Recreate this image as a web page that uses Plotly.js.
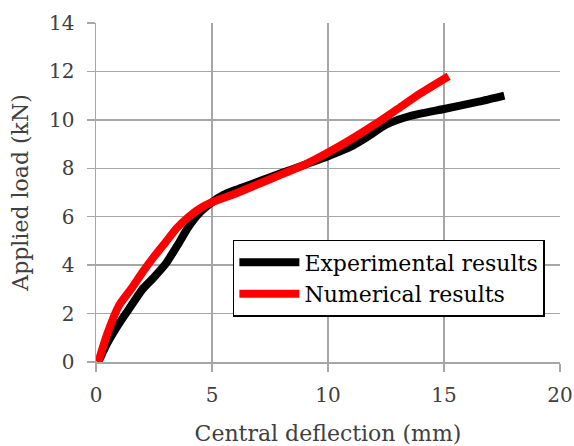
<!DOCTYPE html>
<html><head><meta charset="utf-8">
<script src="https://cdn.plot.ly/plotly-3.0.1.min.js"></script>
<style>html,body{margin:0;padding:0;background:#fff;}#chart{width:574px;height:446px;}</style>
</head><body><div id="chart"></div>
<script>
const expX = [0.1, 0.5, 1.0, 1.5, 2.0, 2.5, 3.0, 3.5, 4.0, 4.5, 5.0, 5.5, 6.0, 7.0, 8.0, 9.0, 10.0, 11.0, 11.7, 12.5, 13.5, 15.0, 16.5, 17.6];
const expY = [0.0, 0.8, 1.6, 2.3, 3.0, 3.5, 4.05, 4.8, 5.6, 6.2, 6.6, 6.9, 7.1, 7.45, 7.8, 8.15, 8.5, 8.9, 9.3, 9.8, 10.15, 10.45, 10.75, 11.0];
const numX = [0.1, 0.5, 1.0, 1.5, 2.0, 2.5, 3.0, 3.5, 4.0, 4.5, 5.0, 6.0, 7.0, 8.0, 9.0, 10.0, 11.0, 12.0, 13.0, 14.0, 15.2];
const numY = [0.0, 1.2, 2.35, 3.0, 3.7, 4.35, 4.95, 5.55, 6.0, 6.35, 6.6, 6.95, 7.35, 7.75, 8.15, 8.65, 9.2, 9.8, 10.45, 11.1, 11.8];
const xTicks = [0, 5, 10, 15, 20];
const yTicks = [0, 2, 4, 6, 8, 10, 12, 14];
const serif = "DejaVu Serif";
const traces = [
  {x: expX, y: expY, mode: 'lines', name: 'Experimental results', line: {color: '#000000', width: 8, shape: 'spline', smoothing: 0.6}},
  {x: numX, y: numY, mode: 'lines', name: 'Numerical results', line: {color: '#ff0000', width: 8, shape: 'spline', smoothing: 0.6}}
];
const layout = {
  width: 574, height: 446,
  margin: {l: 96, r: 14, t: 23, b: 84},
  paper_bgcolor: '#ffffff', plot_bgcolor: '#ffffff',
  font: {family: serif, color: '#404040', size: 20},
  xaxis: {
    range: [0, 20], tickvals: xTicks, showgrid: true, gridcolor: '#a6a6a6', gridwidth: 1.5,
    zeroline: false, showline: true, linecolor: '#a6a6a6', linewidth: 1.5, mirror: false,
    ticks: 'outside', ticklen: 8, tickcolor: '#a6a6a6', tickwidth: 1.5, ticklabelstandoff: 6,
    tickfont: {family: serif, size: 20, color: '#404040'},
    title: {text: 'Central deflection (mm)', font: {family: serif, size: 22, color: '#404040'}, standoff: 20}
  },
  yaxis: {
    range: [0, 14], tickvals: yTicks, showgrid: true, gridcolor: '#a6a6a6', gridwidth: 1.5,
    zeroline: false, showline: true, linecolor: '#a6a6a6', linewidth: 1.5,
    ticks: 'outside', ticklen: 8, tickcolor: '#a6a6a6', tickwidth: 1.5, ticklabelstandoff: 8,
    tickfont: {family: serif, size: 20, color: '#404040'},
    title: {text: 'Applied load (kN)', font: {family: serif, size: 22, color: '#404040'}, standoff: 14}
  },
  showlegend: true,
  legend: {
    x: 0.295, y: 0.36, xanchor: 'left', yanchor: 'top',
    bgcolor: '#ffffff', bordercolor: '#000000', borderwidth: 1.5,
    font: {family: serif, size: 22, color: '#000000'},
    itemwidth: 60, tracegroupgap: 0
  }
};
Plotly.newPlot('chart', traces, layout, {displayModeBar: false, staticPlot: true});
</script>
</body></html>
